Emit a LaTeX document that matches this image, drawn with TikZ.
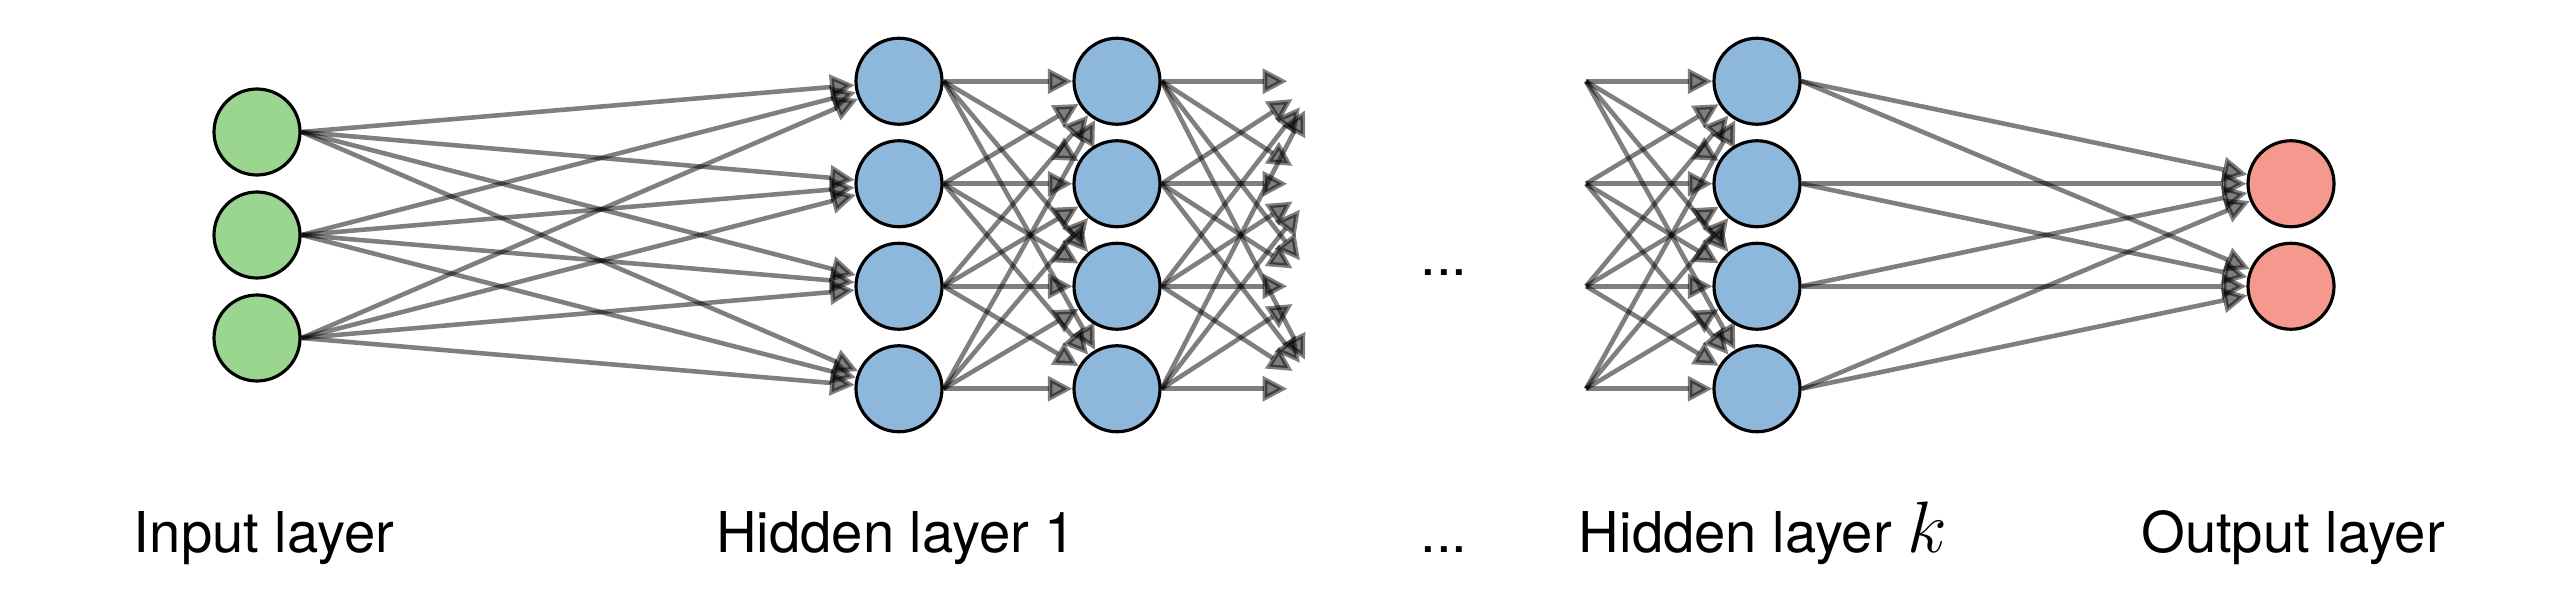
\documentclass[tikz,border=0pt]{standalone}
\usepackage{fontspec}
\setmainfont{TeX Gyre Heros}
\usetikzlibrary{arrows.meta}
\definecolor{ingreen}{RGB}{154,214,143}
\definecolor{hidblue}{RGB}{141,184,220}
\definecolor{outred}{RGB}{245,152,142}

\begin{document}
\begin{tikzpicture}[
            neuron/.style={circle,draw=black,line width=0.9pt,minimum size=0.86cm,inner sep=0pt},
            ghost/.style={circle,minimum size=0.64cm,inner sep=0pt},
            innode/.style={neuron,fill=ingreen},
            hidnode/.style={neuron,fill=hidblue},
            outnode/.style={neuron,fill=outred},
            conn/.style={draw=black,opacity=0.5,line width=1.3pt,-{Triangle[length=7pt,width=7pt]}},
            layername/.style={anchor=base,font=\fontsize{16}{19}\selectfont}
        ]
            \useasboundingbox (0,0) rectangle (25.71,6);
            % neurons
            \foreach \i/\y in {1/4.68,2/3.65,3/2.62}
                \node[innode] (i\i) at (2.57,\y) {};
            \foreach \i/\y in {1/5.1875,2/4.1625,3/3.1375,4/2.1125} {
                \node[hidnode] (a\i) at (8.99,\y) {};
                \node[hidnode] (b\i) at (11.17,\y) {};
                \node[ghost] (c\i) at (13.20,\y) {};
                \coordinate (d\i) at (15.86,\y);
                \node[hidnode] (k\i) at (17.57,\y) {};
            }
            \node[outnode] (o1) at (22.91,4.1625) {};
            \node[outnode] (o2) at (22.91,3.1375) {};
            \node[anchor=base] (dots) at (14.44,3.24) {\fontsize{16}{19}\selectfont ...};
            % connections
            \foreach \i in {1,2,3}
                \foreach \j in {1,...,4}
                    \draw[conn] (i\i.east) -- (a\j);
            \foreach \i in {1,...,4}
                \foreach \j in {1,...,4} {
                    \draw[conn] (a\i.east) -- (b\j);
                    \draw[conn] (b\i.east) -- (c\j);
                    \draw[conn] (d\i) -- (k\j);
                }
            \foreach \i in {1,...,4}
                \foreach \j in {1,2}
                    \draw[conn] (k\i.east) -- (o\j);
            % layer names
            \node[layername] (lin) at (2.64,0.48) {Input layer};
            \node[layername] (lh1) at (8.96,0.48) {Hidden layer 1};
            \node[layername] (ldots) at (14.44,0.48) {...};
            \node[layername] (lhk) at (17.63,0.48) {Hidden layer {\fontsize{21}{24}\selectfont$k$}};
            \node[layername] (lout) at (22.93,0.48) {Output layer};
        \end{tikzpicture}
\end{document}
